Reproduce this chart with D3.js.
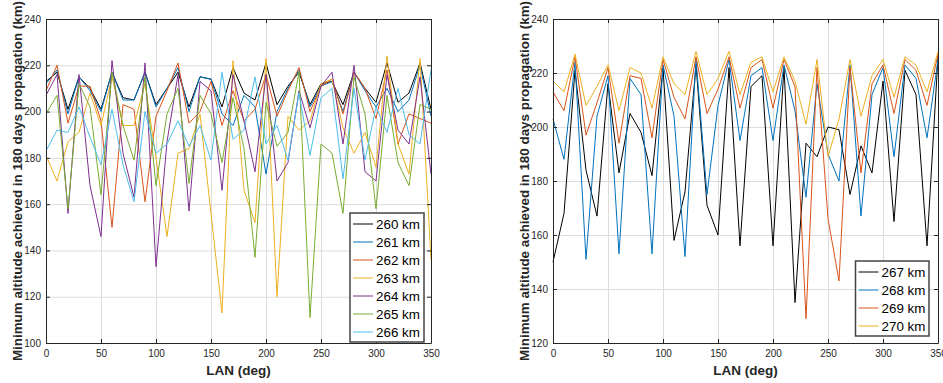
<!DOCTYPE html>
<html>
<head>
<meta charset="utf-8">
<script src="https://cdn.jsdelivr.net/npm/d3@7"></script>
<style>
  body { margin: 0; background: #fff; }
  svg { font-family: "Liberation Sans", Arial, sans-serif; }
  .tick text { fill: #262626; font-size: 10px; }
  .frame path, .frame line { stroke: #262626; }
  .grid line { stroke: #dcdcdc; }
  .grid path { display: none; }
</style>
</head>
<body>
<div id="chart"></div>
<script>
// LAN values (deg)
var lan = [0, 10, 20, 30, 40, 50, 60, 70, 80, 90, 100, 110, 120, 130, 140, 150, 160, 170,
           180, 190, 200, 210, 220, 230, 240, 250, 260, 270, 280, 290, 300, 310, 320, 330, 340, 350];

// left panel, minimum altitude (km)
var alt260 = [213,217,201,215,210,201,217,206,205,217,203,210,217,202,215,214,202,219,208,205,221,203,211,217,203,212,213,203,217,210,204,221,204,208,221,201];
var alt261 = [212,218,199,215,209,200,217,205,205,217,202,210,219,200,215,214,199,194,207,202,173,200,210,218,202,211,213,200,217,209,202,210,200,205,220,198];
var alt262 = [209,220,195,211,211,196,150,203,201,161,198,209,221,195,200,213,194,209,196,201,216,198,209,219,200,211,214,199,217,210,197,218,186,199,197,195];
var alt263 = [181,170,187,191,208,194,215,194,194,212,180,146,182,184,199,156,113,222,166,152,223,120,198,192,196,212,214,193,182,191,176,224,186,173,223,136];
var alt264 = [207,216,156,216,168,146,222,182,163,221,133,187,216,157,213,209,166,216,196,174,216,170,178,209,193,211,217,186,220,174,170,216,192,186,215,173];
var alt265 = [199,207,158,212,202,164,217,194,179,215,168,199,210,169,207,199,178,206,184,137,204,185,191,217,111,186,182,156,215,199,158,207,178,168,203,201];
var alt266 = [183,192,191,202,189,177,201,177,161,200,182,186,196,185,194,179,217,188,192,215,186,194,179,208,181,206,210,171,210,179,202,191,210,190,186,218];

// right panel
var alt267 = [150,168,221,184,167,216,183,205,198,182,222,158,176,223,171,160,222,156,215,219,156,222,135,194,189,200,199,175,193,183,217,165,221,212,156,226];
var alt268 = [203,188,224,151,204,219,153,218,212,153,223,204,152,225,175,208,225,195,219,222,195,223,206,174,216,190,180,223,167,212,222,189,223,218,196,225];
var alt269 = [213,206,226,197,209,222,194,219,218,196,225,211,203,226,205,214,226,207,222,225,207,225,215,129,222,166,143,222,183,216,223,205,225,221,208,227];
var alt270 = [217,213,227,208,215,223,206,222,220,207,226,216,212,228,212,218,228,212,224,226,213,226,217,201,225,189,203,225,204,219,225,211,226,223,213,228];

var leftNames = ["260 km", "261 km", "262 km", "263 km", "264 km", "265 km", "266 km"];
var rightNames = ["267 km", "268 km", "269 km", "270 km"];
var colors = ["#000000", "#0072BD", "#D95319", "#EDB120", "#7E2F8E", "#77AC30", "#4DBEEE"];

var xTicks = [0, 50, 100, 150, 200, 250, 300, 350];
var leftYTicks = [100, 120, 140, 160, 180, 200, 220, 240];
var rightYTicks = [120, 140, 160, 180, 200, 220, 240];

var svg = d3.select("#chart").append("svg")
    .attr("width", 943)
    .attr("height", 383);

function panel(left, yDomain, yTicks, series, names, legendBox) {
  var width = 385, height = 324, top = 19;
  var g = svg.append("g").attr("transform", "translate(" + left + "," + top + ")");

  var x = d3.scaleLinear().domain([0, 350]).range([0, width]);
  var y = d3.scaleLinear().domain(yDomain).range([height, 0]);

  // grid
  g.append("g").attr("class", "grid")
      .attr("transform", "translate(0," + height + ")")
      .call(d3.axisBottom(x).tickValues(xTicks).tickSize(-height).tickFormat(""));
  g.append("g").attr("class", "grid")
      .call(d3.axisLeft(y).tickValues(yTicks).tickSize(-width).tickFormat(""));

  var line = d3.line()
      .x(function(d, i) { return x(lan[i]); })
      .y(function(d) { return y(d); });

  g.append("g").selectAll("path")
    .data(series)
    .enter().append("path")
      .attr("fill", "none")
      .attr("stroke", function(d, i) { return colors[i]; })
      .attr("stroke-width", 1)
      .attr("d", line);

  // box with inward ticks on all sides
  g.append("g").attr("class", "frame")
      .attr("transform", "translate(0," + height + ")")
      .call(d3.axisBottom(x).tickValues(xTicks).tickSize(-4).tickSizeOuter(0).tickPadding(7));
  g.append("g").attr("class", "frame")
      .call(d3.axisTop(x).tickValues(xTicks).tickSize(-4).tickSizeOuter(0).tickFormat(""));
  g.append("g").attr("class", "frame")
      .call(d3.axisLeft(y).tickValues(yTicks).tickSize(-4).tickSizeOuter(0).tickPadding(5));
  g.append("g").attr("class", "frame")
      .attr("transform", "translate(" + width + ",0)")
      .call(d3.axisRight(y).tickValues(yTicks).tickSize(-4).tickSizeOuter(0).tickFormat(""));
  g.selectAll(".frame .domain").attr("stroke-width", 1);

  g.append("text")
      .attr("x", width / 2)
      .attr("y", height + 32)
      .attr("text-anchor", "middle")
      .attr("font-size", 13.5)
      .attr("font-weight", "bold")
      .attr("fill", "#262626")
      .text("LAN (deg)");

  g.append("text")
      .attr("transform", "translate(" + (-24) + "," + (height / 2) + ") rotate(-90)")
      .attr("text-anchor", "middle")
      .attr("font-size", 13.4)
      .attr("font-weight", "bold")
      .attr("fill", "#262626")
      .text("Minimum altitude achieved in 180 days propagation (km)");

  // legend
  var lg = svg.append("g").attr("transform", "translate(" + legendBox.x + "," + legendBox.y + ")");
  lg.append("rect")
      .attr("width", legendBox.w)
      .attr("height", 18 * names.length + 3)
      .attr("fill", "#fff")
      .attr("stroke", "#444")
      .attr("stroke-width", 1.5);
  var item = lg.selectAll("g.item")
    .data(names)
    .enter().append("g")
      .attr("class", "item")
      .attr("transform", function(d, i) { return "translate(0," + (11 + i * 18) + ")"; });
  item.append("line")
      .attr("x1", 3).attr("x2", 23)
      .attr("stroke", function(d, i) { return colors[i]; })
      .attr("stroke-width", 1);
  item.append("text")
      .attr("x", 26)
      .attr("dy", "0.36em")
      .attr("font-size", 13.4)
      .attr("fill", "#000")
      .text(function(d) { return d; });
}

panel(46, [100, 240], leftYTicks,
      [alt260, alt261, alt262, alt263, alt264, alt265, alt266], leftNames,
      {x: 350, y: 213, w: 74});
panel(553, [120, 240], rightYTicks,
      [alt267, alt268, alt269, alt270], rightNames,
      {x: 855.5, y: 261, w: 73.5});
</script>
</body>
</html>
